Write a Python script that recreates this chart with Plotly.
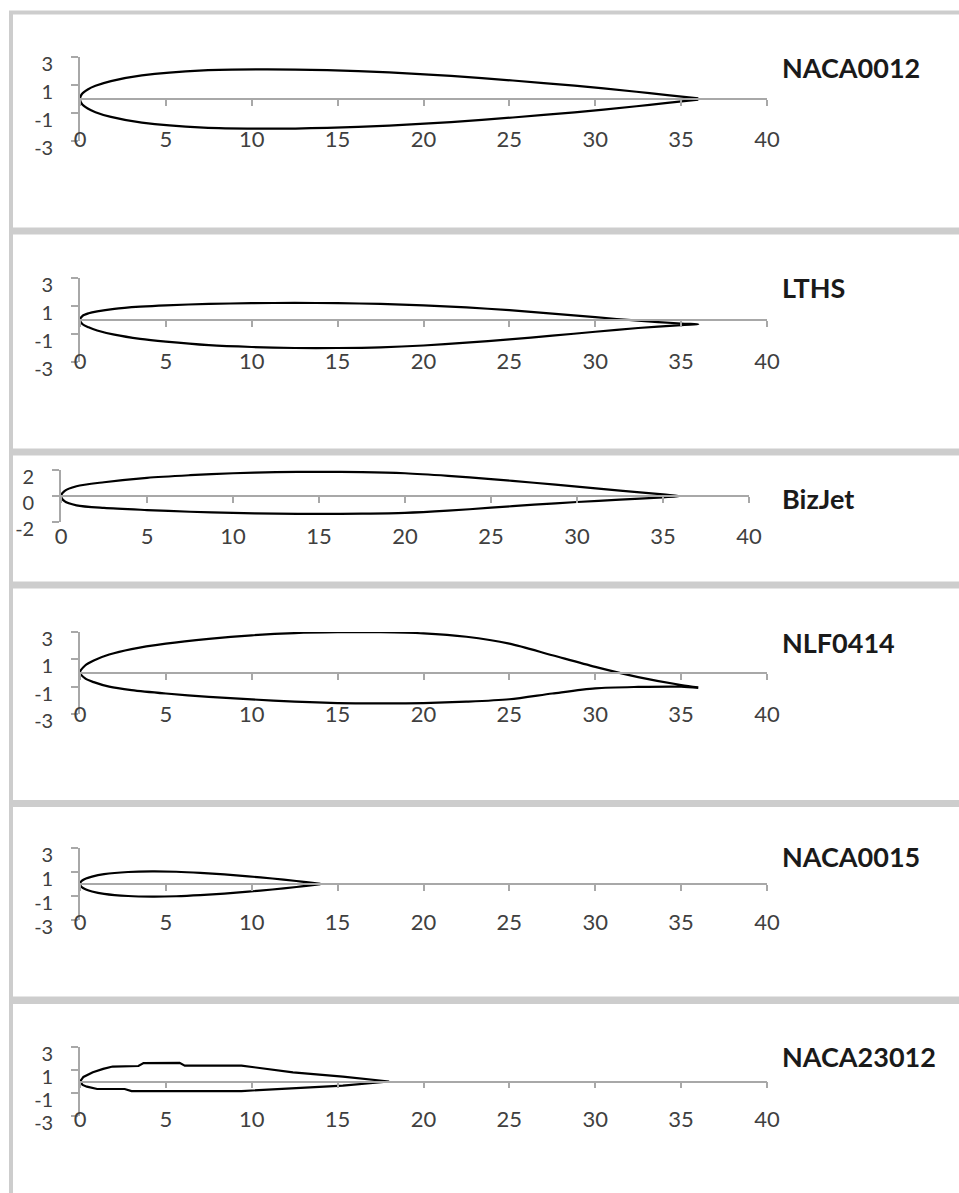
import plotly.graph_objects as go

W, H = 959, 1193

# ---------------- data ----------------
airfoil_names = ["NACA0012", "LTHS", "BizJet", "NLF0414", "NACA0015", "NACA23012"]

naca0012_x = [0, 0.1, 0.45, 0.9, 1.8, 3.6, 7.2, 10.8, 14.4, 18, 21.6, 25.2, 28.8, 32.4, 34.2, 36]
naca0012_upper = [0, 0.34, 0.68, 0.94, 1.28, 1.69, 2.05, 2.12, 2.06, 1.9, 1.65, 1.32, 0.95, 0.52, 0.28, 0.05]
naca0012_lower = [0, -0.34, -0.68, -0.94, -1.28, -1.69, -2.05, -2.12, -2.06, -1.9, -1.65, -1.32, -0.95, -0.52, -0.28, -0.05]

lths_x = [0, 0.15, 0.5, 1, 2, 3.5, 5, 7.5, 10, 12.5, 15, 17.5, 20, 22.5, 25, 27.5, 30, 32.5, 35, 36]
lths_upper = [0, 0.3, 0.48, 0.62, 0.8, 0.95, 1.05, 1.15, 1.2, 1.22, 1.2, 1.15, 1.05, 0.9, 0.7, 0.45, 0.2, -0.05, -0.25, -0.3]
lths_lower = [0, -0.3, -0.52, -0.75, -1.05, -1.35, -1.55, -1.8, -1.93, -2.0, -2.0, -1.95, -1.82, -1.62, -1.38, -1.12, -0.84, -0.57, -0.36, -0.3]

bizjet_x = [0, 0.2, 0.9, 2.5, 5, 7.5, 10, 12.5, 15, 17.5, 20, 22.5, 25, 27.5, 30, 32.5, 35, 36]
bizjet_upper = [0, 0.38, 0.75, 1.06, 1.4, 1.6, 1.75, 1.83, 1.86, 1.84, 1.75, 1.55, 1.3, 1.02, 0.72, 0.42, 0.12, 0.0]
bizjet_lower = [0, -0.4, -0.72, -0.92, -1.08, -1.21, -1.3, -1.36, -1.38, -1.36, -1.3, -1.13, -0.9, -0.67, -0.46, -0.28, -0.1, 0.0]

nlf0414_x = [0, 0.3, 0.8, 1.7, 3, 5, 7.5, 10, 12.5, 15, 17.5, 20, 22.5, 25, 27.5, 30, 32.5, 35, 36]
nlf0414_upper = [0.05, 0.55, 0.92, 1.35, 1.75, 2.15, 2.5, 2.76, 2.92, 2.98, 2.98, 2.9, 2.65, 2.15, 1.3, 0.45, -0.3, -0.88, -1.05]
nlf0414_lower = [0.05, -0.4, -0.67, -1.0, -1.25, -1.5, -1.75, -1.93, -2.1, -2.2, -2.22, -2.2, -2.1, -1.92, -1.5, -1.12, -1.02, -1.0, -1.1]

naca0015_x = [0, 0.05, 0.175, 0.35, 0.7, 1.4, 2.8, 4.2, 5.6, 7, 8.4, 9.8, 11.2, 12.6, 13.3, 14]
naca0015_upper = [0, 0.18, 0.33, 0.46, 0.62, 0.82, 1.0, 1.05, 1.02, 0.93, 0.8, 0.64, 0.46, 0.25, 0.14, 0.02]
naca0015_lower = [0, -0.18, -0.33, -0.46, -0.62, -0.82, -1.0, -1.05, -1.02, -0.93, -0.8, -0.64, -0.46, -0.25, -0.14, -0.02]

naca23012_xu = [0, 0.2, 0.75, 1.35, 1.9, 3.4, 3.7, 5.8, 6.1, 9.4, 10.5, 12.4, 15.3, 18]
naca23012_upper = [0, 0.4, 0.8, 1.1, 1.3, 1.35, 1.6, 1.62, 1.38, 1.38, 1.2, 0.8, 0.42, 0]
naca23012_xl = [0, 0.15, 0.4, 1.0, 2.6, 3.0, 9.4, 12.4, 15.3, 18]
naca23012_lower = [0, -0.3, -0.45, -0.65, -0.65, -0.83, -0.83, -0.58, -0.36, 0]

x_tick_vals = [0, 5, 10, 15, 20, 25, 30, 35, 40]
y_ticks_3 = [-3, -1, 1, 3]
y_ticks_2 = [-2, 0, 2]

series = [
    (naca0012_x, naca0012_upper, naca0012_x, naca0012_lower),
    (lths_x, lths_upper, lths_x, lths_lower),
    (bizjet_x, bizjet_upper, bizjet_x, bizjet_lower),
    (nlf0414_x, nlf0414_upper, nlf0414_x, nlf0414_lower),
    (naca0015_x, naca0015_upper, naca0015_x, naca0015_lower),
    (naca23012_xu, naca23012_upper, naca23012_xl, naca23012_lower),
]

# ---------------- layout geometry (pixels) ----------------
geom = [
    dict(px0=80, px1=767, ptop=57, pbot=141, ymax=3, lab=138, title=67, frame=(12.5, 229.5)),
    dict(px0=80, px1=767, ptop=278, pbot=362, ymax=3, lab=360, title=287, frame=(232.5, 450.5)),
    dict(px0=61, px1=749, ptop=470, pbot=522, ymax=2, lab=535, title=498, frame=(453.5, 583.5)),
    dict(px0=80, px1=767, ptop=632, pbot=714, ymax=3, lab=713, title=642, frame=(586.5, 802)),
    dict(px0=80, px1=767, ptop=848, pbot=920, ymax=3, lab=921, title=856, frame=(805, 998.5)),
    dict(px0=80, px1=767, ptop=1047, pbot=1116, ymax=3, lab=1118, title=1056, frame=(1002, 1230)),
]

AXIS_COL = "#a8a8a8"
TXT_COL = "#404040"
FONT = "Lato"

fig = go.Figure()
layout = dict(
    width=W, height=H, margin=dict(l=0, r=0, t=0, b=0, pad=0, autoexpand=False),
    paper_bgcolor="white", plot_bgcolor="rgba(0,0,0,0)",
    showlegend=False, shapes=[], annotations=[],
    font=dict(family=FONT, size=22, color=TXT_COL),
)


def fy(py):
    return 1 - py / H


for k, (name, (xu, yu, xl, yl), g) in enumerate(zip(airfoil_names, series, geom), start=1):
    xid = 2 * k - 1
    lid = 2 * k
    xname = "x" if xid == 1 else f"x{xid}"
    yname = "y" if k == 1 else f"y{k}"
    lname = f"x{lid}"
    xkey = "xaxis" if xid == 1 else f"xaxis{xid}"
    lkey = f"xaxis{lid}"
    ykey = "yaxis" if k == 1 else f"yaxis{k}"

    xs = list(reversed(xu)) + list(xl[1:])
    ys = list(reversed(yu)) + list(yl[1:])
    fig.add_trace(go.Scatter(
        x=xs, y=ys, mode="lines", name=name,
        line=dict(color="black", width=2.2,
                  shape="linear" if name == "NACA23012" else "spline", smoothing=0.8),
        xaxis=xname, yaxis=yname, hoverinfo="skip",
    ))
    # empty companion trace so the label axis is drawn
    fig.add_trace(go.Scatter(x=[None], y=[None], mode="lines", xaxis=lname, yaxis=yname,
                             hoverinfo="skip", showlegend=False))

    dom_x = [g["px0"] / W, g["px1"] / W]
    dom_y = [fy(g["pbot"]), fy(g["ptop"])]
    zero_pos = fy((g["ptop"] + g["pbot"]) / 2)
    ytv = y_ticks_3 if g["ymax"] == 3 else y_ticks_2

    layout[xkey] = dict(
        domain=dom_x, range=[0, 40], anchor="free", position=zero_pos,
        showline=True, linecolor=AXIS_COL, linewidth=1.6,
        ticks="outside", ticklen=6, tickwidth=1.6, tickcolor=AXIS_COL,
        tickvals=x_tick_vals, showticklabels=False, automargin=False,
        showgrid=False, zeroline=False, fixedrange=True,
    )
    layout[lkey] = dict(
        domain=dom_x, range=[0, 40], anchor="free", overlaying=xname,
        position=fy(g["lab"] - 14), automargin=False,
        showline=False, ticks="", tickvals=x_tick_vals,
        ticktext=[str(v) for v in x_tick_vals], showticklabels=True,
        tickfont=dict(family=FONT, size=22, color=TXT_COL),
        showgrid=False, zeroline=False, fixedrange=True,
    )
    layout[ykey] = dict(
        domain=dom_y, range=[-g["ymax"], g["ymax"]], anchor=xname,
        showline=True, linecolor=AXIS_COL, linewidth=1.6, automargin=False,
        ticks="outside", ticklen=7, tickwidth=1.6, tickcolor=AXIS_COL,
        tickvals=ytv, ticktext=[str(v) for v in ytv],
        tickfont=dict(family=FONT, size=20, color=TXT_COL),
        ticklabelstandoff=14, ticklabelshift=7,
        showgrid=False, zeroline=False, fixedrange=True,
    )
    layout["annotations"].append(dict(
        text=f"<b>{name}</b>", xref="paper", yref="paper",
        x=780 / W, y=fy(g["title"]), xanchor="left", yanchor="middle",
        showarrow=False, font=dict(family=FONT, size=27, color="#1a1a1a"),
    ))
    f0, f1 = g["frame"]
    layout["shapes"].append(dict(
        type="rect", xref="paper", yref="paper",
        x0=11 / W, x1=1.1, y0=fy(f1), y1=fy(f0),
        line=dict(color="#cdcdcd", width=4), fillcolor="rgba(0,0,0,0)", layer="below",
    ))

fig.update_layout(**layout)
post = ("document.body.style.margin='0';"
        "var d=document.getElementById('{plot_id}');"
        "d.style.position='absolute';d.style.top='0px';d.style.left='0px';")
fig.write_html("out.html", post_script=post, config={"displayModeBar": False})
